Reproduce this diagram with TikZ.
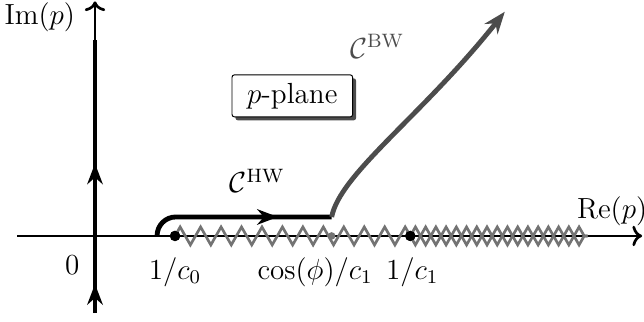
\documentclass[tikz,border=0pt]{standalone}
\usepackage{amsmath}
\usepackage{amssymb}
\usetikzlibrary{arrows.meta, decorations.pathmorphing, decorations.markings, shadows}

\tikzset{
  axis/.style={line width=1.1pt, ->},
  contour/.style={line width=2pt},
  cut/.style={black!55, line width=1.1pt, decorate, decoration={zigzag, segment length=0.2965cm, amplitude=0.13cm}},
  dot/.style={circle, fill, inner sep=0pt, minimum size=1.5mm},
}

\begin{document}
\begin{tikzpicture}[font=\fontsize{12pt}{14pt}\selectfont]
\useasboundingbox (-1.377,-1.246) rectangle (7.957,3.42);

% axes
\coordinate (xmin) at (-1.13,0);
\coordinate (xmax) at (7.93,0);
\coordinate (ymin) at (0,-1.12);
\coordinate (ymax) at (0,3.40);
\draw[axis] (xmin) -- (xmax);
\draw[axis] (ymin) -- (ymax);
\node (im) at (-0.80,3.17) {$\mathrm{Im}(p)$};
\node[anchor=west, inner sep=0pt] (re) at (6.98,0.36) {$\mathrm{Re}(p)$};
\node (zero) at (-0.33,-0.42) {$0$};

% branch points and cuts
\coordinate (cutend) at (7.14,0);
\node[dot] (c0) at (1.16,0) {};
\node[dot, black!55, minimum size=1.1mm] (phi) at (3.43,0) {};
\node[dot] (c1) at (4.57,0) {};
\draw[cut] (c0.center) -- (cutend);
\draw[cut] (c1.center) -- (cutend);
\node[dot] at (c0) {};
\node[dot] at (c1) {};
\node (c0lab) at (1.16,-0.52) {$1/c_0$};
\node (philab) at (3.19,-0.52) {$\cos(\phi)/c_1$};
\node (c1lab) at (4.60,-0.52) {$1/c_1$};

% contours
\coordinate (vbot) at (0,-1.12);
\coordinate (vtop) at (0,2.84);
\draw[contour, postaction={decorate}, decoration={markings,
    mark=at position 0.107 with {\arrow{Stealth[length=3mm]}},
    mark=at position 0.548 with {\arrow{Stealth[length=3mm]}}}] (vbot) -- (vtop);

\coordinate (hwstart) at (0.90,0);
\coordinate (hwend) at (3.43,0.275);
\coordinate (bwend) at (5.94,3.25);
\draw[contour, rounded corners=0.27cm, postaction={decorate}, decoration={markings,
    mark=at position 0.71 with {\arrow{Stealth[length=3mm]}}}] (hwstart) |- (hwend);
\draw[contour, black!70, -{Stealth[length=3.2mm]}] (hwend) .. controls (3.55,0.9) and (4.75,1.75) .. (bwend);
\node (hw) at (2.35,0.80) {$\mathcal{C}^{\mathrm{HW}}$};
\node[black!70] (bw) at (4.09,2.75) {$\mathcal{C}^{\mathrm{BW}}$};

\node[draw, fill=white, rounded corners=1pt, inner xsep=0.22cm, minimum height=0.5cm,
  drop shadow={shadow xshift=0.5mm, shadow yshift=-0.5mm, fill=black!70, opacity=1}] (plane) at (2.86,2.03) {$p$-plane};
\end{tikzpicture}
\end{document}
